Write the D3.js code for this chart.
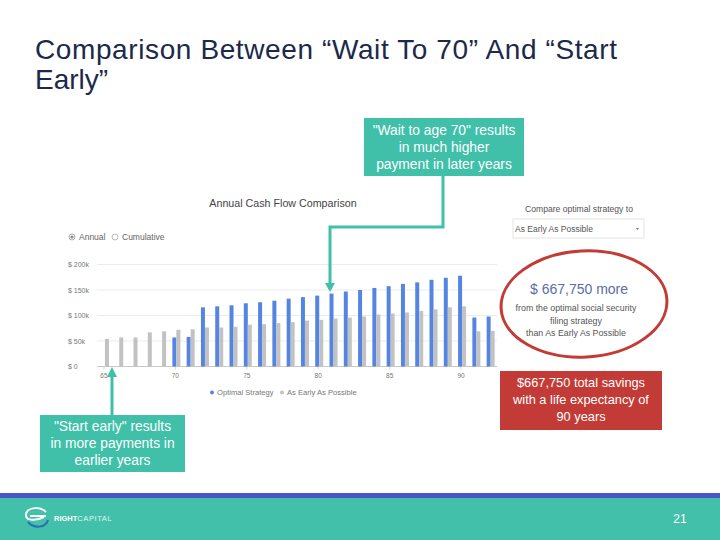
<!DOCTYPE html>
<html lang="en">
<head>
  <meta charset="UTF-8">
  <title>Comparison Between "Wait To 70" And "Start Early"</title>
  <style>
    body { margin: 0; background: #fff; }
    svg { display: block; font-family: "Liberation Sans", Arial, sans-serif; }
  </style>
  <script src="https://d3js.org/d3.v7.min.js"></script>
</head>
<body>
  <svg id="slide" width="720" height="540"></svg>

  <script>
    // Chart data
    const ages = d3.range(65, 93);
    const optimal = [null, null, null, null, null, 57, 58, 116, 118, 120, 124, 126, 129, 133,
      136, 139, 143, 147, 150, 154, 157.5, 162, 165, 170, 174, 178, 96, 98];
    const asEarly = [54, 57, 57, 67, 69, 72, 73, 76.5, 76.5, 78, 82, 83, 85, 87,
      90, 91.5, 94, 96, 98, 102, 104, 106, 109, 112, 116, 118, 69, 70];
    const yTicks = [0, 50, 100, 150, 200];
    const yTickLabels = ['$ 0', '$ 50k', '$ 100k', '$ 150k', '$ 200k'];
    const xTickAges = [65, 70, 75, 80, 85, 90];

    const teal = '#40bfa9';
    const red = '#c23b36';
    const blue = '#5585e3';
    const grey = '#c2c2c2';

    const svg = d3.select('#slide');

    // Slide title
    const title = svg.append('text')
      .attr('fill', '#1b2a4a')
      .attr('font-size', 28);
    title.append('tspan').attr('x', 35).attr('y', 59)
      .attr('textLength', 582).attr('lengthAdjust', 'spacing')
      .text('Comparison Between \u201cWait To 70\u201d And \u201cStart');
    title.append('tspan').attr('x', 35).attr('y', 89)
      .text('Early\u201d');

    // ---- embedded chart screenshot ----
    const x = d3.scaleBand().domain(ages).range([97.8, 497.8]);
    const y = d3.scaleLinear().domain([0, 200]).range([366.5, 264.5]);
    const barW = 4;

    svg.append('text')
      .attr('x', 283).attr('y', 207).attr('text-anchor', 'middle')
      .attr('font-size', 10.7).attr('fill', '#444')
      .text('Annual Cash Flow Comparison');

    // radio buttons
    const radio = svg.append('g').attr('font-size', 8.5).attr('fill', '#666');
    radio.append('circle').attr('cx', 72).attr('cy', 237).attr('r', 3)
      .attr('fill', '#fff').attr('stroke', '#999').attr('stroke-width', 0.8);
    radio.append('circle').attr('cx', 72).attr('cy', 237).attr('r', 1.6).attr('fill', '#888');
    radio.append('text').attr('x', 79).attr('y', 240).text('Annual');
    radio.append('circle').attr('cx', 115).attr('cy', 237).attr('r', 3)
      .attr('fill', '#fff').attr('stroke', '#aaa').attr('stroke-width', 0.8);
    radio.append('text').attr('x', 122).attr('y', 240).text('Cumulative');

    // grid lines
    svg.append('g')
      .selectAll('line')
      .data(yTicks)
      .join('line')
      .attr('x1', 97).attr('x2', 497)
      .attr('y1', d => y(d)).attr('y2', d => y(d))
      .attr('stroke', d => d === 0 ? '#bbb' : '#e6e6e6')
      .attr('stroke-width', 0.8);

    svg.append('g')
      .selectAll('text')
      .data(yTicks)
      .join('text')
      .attr('x', 68).attr('y', d => y(d) + 2.5)
      .attr('font-size', 7).attr('fill', '#777')
      .text((d, i) => yTickLabels[i]);

    // x ticks and labels
    const xc = a => x(a) + x.bandwidth() / 2;
    svg.append('g')
      .selectAll('line')
      .data(xTickAges)
      .join('line')
      .attr('x1', d => xc(d) - 1).attr('x2', d => xc(d) - 1)
      .attr('y1', y(0)).attr('y2', y(0) + 3)
      .attr('stroke', '#ccc').attr('stroke-width', 0.8);
    svg.append('g')
      .selectAll('text')
      .data(xTickAges)
      .join('text')
      .attr('x', d => xc(d) - 1).attr('y', 378)
      .attr('text-anchor', 'middle')
      .attr('font-size', 6.5).attr('fill', '#777')
      .text(d => d);

    // bars
    svg.append('g')
      .selectAll('rect')
      .data(ages.map((a, i) => ({ a, v: optimal[i] })).filter(d => d.v !== null))
      .join('rect')
      .attr('x', d => xc(d.a) - barW)
      .attr('width', barW)
      .attr('y', d => y(d.v))
      .attr('height', d => y(0) - y(d.v))
      .attr('fill', blue);
    svg.append('g')
      .selectAll('rect')
      .data(ages.map((a, i) => ({ a, v: asEarly[i] })))
      .join('rect')
      .attr('x', d => xc(d.a))
      .attr('width', barW)
      .attr('y', d => y(d.v))
      .attr('height', d => y(0) - y(d.v))
      .attr('fill', grey);

    // legend
    const legend = svg.append('g').attr('font-size', 7.6).attr('fill', '#777');
    legend.append('circle').attr('cx', 212).attr('cy', 392.5).attr('r', 2).attr('fill', blue);
    legend.append('text').attr('x', 217).attr('y', 395.3).text('Optimal Strategy');
    legend.append('circle').attr('cx', 282).attr('cy', 392.5).attr('r', 2).attr('fill', grey);
    legend.append('text').attr('x', 287).attr('y', 395.3).text('As Early As Possible');

    // compare dropdown
    svg.append('text')
      .attr('x', 579).attr('y', 212).attr('text-anchor', 'middle')
      .attr('font-size', 8.6).attr('fill', '#555')
      .text('Compare optimal strategy to');
    svg.append('rect')
      .attr('x', 513).attr('y', 219).attr('width', 131).attr('height', 19)
      .attr('fill', '#fff').attr('stroke', '#ddd').attr('stroke-width', 0.8);
    svg.append('text')
      .attr('x', 515).attr('y', 231.5)
      .attr('font-size', 8.5).attr('fill', '#555')
      .text('As Early As Possible');
    svg.append('path')
      .attr('d', 'M636,228 l3,0 l-1.5,2 z').attr('fill', '#777');

    // red ellipse and savings text
    svg.append('ellipse')
      .attr('cx', 584).attr('cy', 304).attr('rx', 83).attr('ry', 53)
      .attr('transform', 'rotate(-3 584 304)')
      .attr('fill', 'none').attr('stroke', red).attr('stroke-width', 3);
    svg.append('text')
      .attr('x', 579).attr('y', 294).attr('text-anchor', 'middle')
      .attr('font-size', 14).attr('fill', '#5a6ea6')
      .text('$ 667,750 more');
    const sub = svg.append('text')
      .attr('text-anchor', 'middle').attr('font-size', 8.8).attr('fill', '#555');
    ['from the optimal social security', 'filing strategy', 'than As Early As Possible']
      .forEach((t, i) => sub.append('tspan').attr('x', 576).attr('y', 311 + i * 12.5).text(t));

    // ---- callouts ----
    function callout(x0, y0, w, h, lines, fill, lineY, size) {
      svg.append('rect')
        .attr('x', x0).attr('y', y0).attr('width', w).attr('height', h)
        .attr('fill', fill);
      const t = svg.append('text')
        .attr('text-anchor', 'middle').attr('font-size', size).attr('fill', '#fff');
      lines.forEach((l, i) => t.append('tspan')
        .attr('x', x0 + w / 2).attr('y', lineY + i * 17).text(l));
    }

    // top callout connector
    svg.append('path')
      .attr('d', 'M443,175 V227 H330 V284')
      .attr('fill', 'none').attr('stroke', teal).attr('stroke-width', 3);
    svg.append('path')
      .attr('d', 'M325,283 L335,283 L330,292 z').attr('fill', teal);
    callout(364, 118, 160, 58,
      ['"Wait to age 70" results', 'in much higher', 'payment in later years'], teal, 134.5, 13.8);

    // bottom callout arrow
    svg.append('path')
      .attr('d', 'M112,416 V375')
      .attr('fill', 'none').attr('stroke', teal).attr('stroke-width', 3);
    svg.append('path')
      .attr('d', 'M107,377 L117,377 L112,367 z').attr('fill', teal);
    callout(40, 415, 145, 57,
      ['"Start early" results', 'in more payments in', 'earlier years'], teal, 431, 13.8);

    callout(500, 371, 162, 59,
      ['$667,750 total savings', 'with a life expectancy of', '90 years'], red, 387, 12.8);

    // ---- footer ----
    svg.append('rect').attr('x', 0).attr('y', 493).attr('width', 720).attr('height', 5).attr('fill', '#4a55c8');
    svg.append('rect').attr('x', 0).attr('y', 498).attr('width', 720).attr('height', 42).attr('fill', '#42c0aa');

    const logo = svg.append('g').attr('fill', 'none').attr('stroke', '#fff').attr('stroke-width', 2);
    logo.append('path').attr('d', 'M46,512 C40,506 28,507 26,514 C25,520 34,522 44,517');
    logo.append('path').attr('d', 'M28,522 C34,529 46,528 48,520').attr('stroke', '#2a6fb0');
    logo.append('path').attr('d', 'M30,516 L46,516');
    svg.append('text')
      .attr('x', 54).attr('y', 521).attr('font-size', 7.5).attr('fill', '#fff')
      .call(t => {
        t.append('tspan').attr('font-weight', 'bold').text('RIGHT');
        t.append('tspan').attr('fill', '#e3f5f1').attr('letter-spacing', 0.6).text('CAPITAL');
      });
    svg.append('text')
      .attr('x', 680).attr('y', 523).attr('text-anchor', 'middle')
      .attr('font-size', 12).attr('fill', '#fff')
      .text('21');
  </script>
</body>
</html>
